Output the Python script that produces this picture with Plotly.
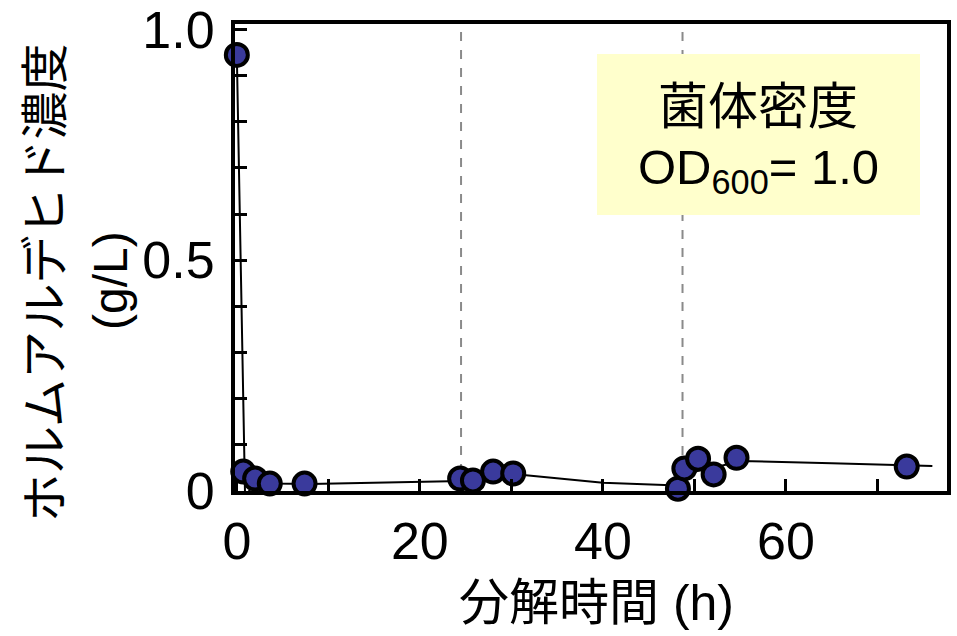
import plotly.graph_objects as go

# data
time_h = [0, 0.7, 2.0, 3.6, 7.4, 24.4, 25.8, 28.0, 30.2, 48.2, 48.9, 50.4, 52.1, 54.6, 73.2]
hcho = [0.945, 0.042, 0.027, 0.016, 0.016, 0.027, 0.023, 0.042, 0.038, 0.005, 0.049, 0.070, 0.036, 0.072, 0.053]

line_t = [0, 0.9, 2.0, 4.0, 8.0, 24.4, 26.0, 28.0, 30.2, 40.0, 48.2, 49.0, 50.5, 52.0, 55.0, 65.0, 73.2, 76.0]
line_y = [0.945, -0.012, 0.018, 0.016, 0.015, 0.020, 0.022, 0.035, 0.037, 0.018, 0.012, 0.030, 0.045, 0.050, 0.065, 0.060, 0.055, 0.054]

dashed_t = [24.5, 48.7]

x_ticks = [0, 20, 40, 60]
x_ticktext = ["0", "20", "40", "60"]
x_minor = [10, 30, 50, 70]
y_ticks = [0, 0.5, 1.0]
y_ticktext = ["0", "0.5", "1.0"]
y_minor = [0.1, 0.2, 0.3, 0.4, 0.6, 0.7, 0.8, 0.9]

FONT = "Liberation Sans, Arial, Noto Sans CJK JP"

fig = go.Figure()
fig.add_trace(go.Scatter(x=line_t, y=line_y, mode="lines",
                         line=dict(color="black", width=2), cliponaxis=False,
                         hoverinfo="skip", showlegend=False))
fig.add_trace(go.Scatter(x=time_h, y=hcho, mode="markers", cliponaxis=False,
                         marker=dict(size=22, color="#3a3a9c",
                                     line=dict(color="black", width=4)),
                         showlegend=False))

for t in dashed_t:
    fig.add_shape(type="line", xref="x", yref="paper", x0=t, x1=t, y0=0, y1=1,
                  line=dict(color="#8a8a8a", width=2, dash="dash"), layer="below")

L, R, T, B = 235, 947, 24, 491
W, H = R - L, B - T
def px(x):
    return (x - L) / W
def py(y):
    return (B - y) / H

# yellow box
fig.add_shape(type="rect", xref="paper", yref="paper",
              x0=px(597), x1=px(920), y0=py(215), y1=py(54),
              fillcolor="#ffffcc", line=dict(width=0), layer="below")

fig.add_annotation(xref="paper", yref="paper", x=px(758), y=py(107),
                   text="菌体密度", showarrow=False, xanchor="center", yanchor="middle",
                   font=dict(size=50, color="black", family=FONT))
fig.add_annotation(xref="paper", yref="paper", x=px(758), y=py(170),
                   text="OD<sub>600</sub>= 1.0", showarrow=False, xanchor="center", yanchor="middle",
                   font=dict(size=49, color="black", family=FONT))

# axis titles
fig.add_annotation(xref="paper", yref="paper", x=px(45), y=py(283),
                   text="ホルムアルデヒド濃度", textangle=-90, showarrow=False,
                   xanchor="center", yanchor="middle",
                   font=dict(size=48, color="black", family=FONT))
fig.add_annotation(xref="paper", yref="paper", x=px(111), y=py(281),
                   text="(g/L)", textangle=-90, showarrow=False,
                   xanchor="center", yanchor="middle",
                   font=dict(size=48, color="black", family=FONT))
fig.add_annotation(xref="paper", yref="paper", x=px(596), y=py(603),
                   text="分解時間 (h)", showarrow=False,
                   xanchor="center", yanchor="middle",
                   font=dict(size=50, color="black", family=FONT))

axis_common = dict(showgrid=False, zeroline=False, showline=True, linecolor="black",
                   linewidth=4, mirror=True, ticks="inside", ticklen=12, tickwidth=3,
                   tickcolor="black", automargin=False,
                   tickfont=dict(size=52, color="black", family=FONT))

fig.update_xaxes(range=[-0.2, 77.6], tickvals=x_ticks, ticktext=x_ticktext,
                 ticklabelstandoff=2,
                 minor=dict(tickvals=x_minor, ticks="inside", ticklen=12, tickwidth=3,
                            tickcolor="black", showgrid=False),
                 **axis_common)
fig.update_yaxes(range=[0, 1.012], tickvals=y_ticks, ticktext=y_ticktext,
                 ticklabelstandoff=6,
                 minor=dict(tickvals=y_minor, ticks="inside", ticklen=12, tickwidth=3,
                            tickcolor="black", showgrid=False),
                 **axis_common)

fig.update_layout(width=957, height=636, margin=dict(l=L, r=957 - R, t=T, b=636 - B),
                  plot_bgcolor="white", paper_bgcolor="white",
                  font=dict(family=FONT, color="black"))

fig.write_html("out.html", config={"displayModeBar": False},
               post_script="document.body.style.margin='0';document.body.style.overflow='hidden';")
